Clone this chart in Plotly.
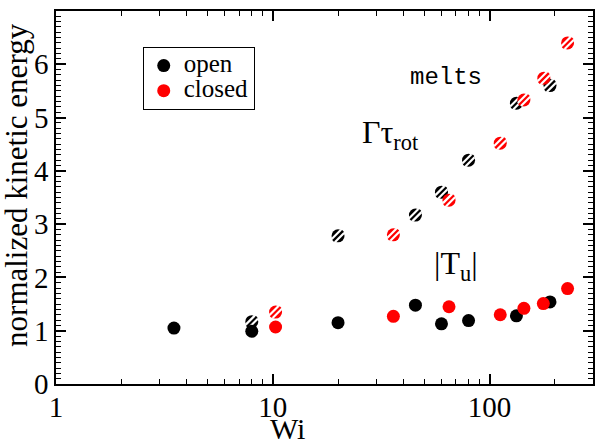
import math
import plotly.graph_objects as go

# |T_u| (solid markers)
open_wi = [3.5, 8.0, 20, 45.5, 60, 80, 133, 190]
open_tu = [1.05, 0.99, 1.15, 1.48, 1.13, 1.19, 1.28, 1.54]
closed_wi = [10.3, 36, 65, 112, 144, 177, 229]
closed_tu = [1.07, 1.27, 1.45, 1.30, 1.42, 1.51, 1.79]

# Gamma tau_rot (hatched markers)
open_rot_wi = [8.0, 20, 45.5, 60, 80, 133, 190]
open_rot = [1.17, 2.78, 3.17, 3.60, 4.20, 5.27, 5.60]
closed_rot_wi = [10.3, 36, 65, 112, 144, 178, 229]
closed_rot = [1.35, 2.80, 3.45, 4.52, 5.33, 5.74, 6.40]

x_range = [1, 300]
y_range = [0, 7]

BLACK = "#000000"
RED = "#ff0000"
SERIF = "Liberation Serif"

fig = go.Figure()


def hatched(x, y, color):
    fig.add_trace(go.Scatter(x=x, y=y, mode="markers", showlegend=False, hoverinfo="skip",
                             marker=dict(symbol="circle", size=13, color=color,
                                         line=dict(width=0))))
    fig.add_trace(go.Scatter(x=x, y=y, mode="markers", showlegend=False, hoverinfo="skip",
                             marker=dict(symbol="line-ne", size=9, color="white",
                                         line=dict(width=6.5, color="white"))))
    fig.add_trace(go.Scatter(x=x, y=y, mode="markers", showlegend=False, hoverinfo="skip",
                             marker=dict(symbol="line-ne", size=10, color=color,
                                         line=dict(width=2.2, color=color))))


hatched(open_rot_wi, open_rot, BLACK)
hatched(closed_rot_wi, closed_rot, RED)

fig.add_trace(go.Scatter(x=open_wi, y=open_tu, mode="markers",
                         name='<span style="font-size:25px">open</span>',
                         marker=dict(symbol="circle", size=13, color=BLACK)))
fig.add_trace(go.Scatter(x=closed_wi, y=closed_tu, mode="markers",
                         name='<span style="font-size:25px">closed</span>',
                         marker=dict(symbol="circle", size=13, color=RED)))

axis_common = dict(showline=True, linecolor=BLACK, linewidth=1.5, mirror="ticks",
                   ticks="inside", ticklen=10, tickwidth=1.5, tickcolor=BLACK,
                   showgrid=False, zeroline=False,
                   tickfont=dict(family=SERIF, size=29, color=BLACK))

fig.update_xaxes(type="log", range=[math.log10(x_range[0]), math.log10(x_range[1])], dtick=1,
                 ticklabelstandoff=-4,
                 minor=dict(ticks="inside", ticklen=5, tickwidth=1, tickcolor=BLACK,
                            dtick="D1", showgrid=False),
                 **axis_common)
fig.update_yaxes(range=y_range, dtick=1,
                 minor=dict(ticks="inside", ticklen=5, tickwidth=1, tickcolor=BLACK,
                            dtick=0.1, showgrid=False),
                 **axis_common)

fig.update_layout(
    width=599, height=445,
    margin=dict(l=56, r=4, t=11, b=61),
    paper_bgcolor="white", plot_bgcolor="white",
    showlegend=True,
    legend=dict(x=0.1615, y=0.9035, xanchor="left", yanchor="top",
                bordercolor=BLACK, borderwidth=1, bgcolor="white",
                font=dict(family=SERIF, size=17, color=BLACK),
                tracegroupgap=0, itemwidth=30),
    annotations=[
        dict(text="normalized kinetic energy", textangle=-90, xref="paper", yref="paper",
             x=-0.0724, y=0.534, xanchor="center", yanchor="middle", showarrow=False,
             font=dict(family=SERIF, size=31, color=BLACK)),
        dict(text="Wi", xref="paper", yref="paper", x=0.432, y=-0.12,
             xanchor="center", yanchor="middle", showarrow=False,
             font=dict(family=SERIF, size=30, color=BLACK)),
        dict(text="Γτ<sub>rot</sub>", xref="x", yref="y", x=math.log10(25.3), y=4.68,
             xanchor="left", yanchor="middle", showarrow=False,
             font=dict(family=SERIF, size=32, color=BLACK)),
        dict(text="|T<sub>u</sub>|", xref="x", yref="y", x=math.log10(69.8), y=2.23,
             xanchor="center", yanchor="middle", showarrow=False,
             font=dict(family=SERIF, size=32, color=BLACK)),
        dict(text="melts", xref="x", yref="y", x=math.log10(62.8), y=5.76,
             xanchor="center", yanchor="middle", showarrow=False,
             font=dict(family="Liberation Mono", size=24, color=BLACK)),
    ],
)

fig.write_html("out.html", config={"displayModeBar": False},
               post_script="document.body.style.margin='0px';")
